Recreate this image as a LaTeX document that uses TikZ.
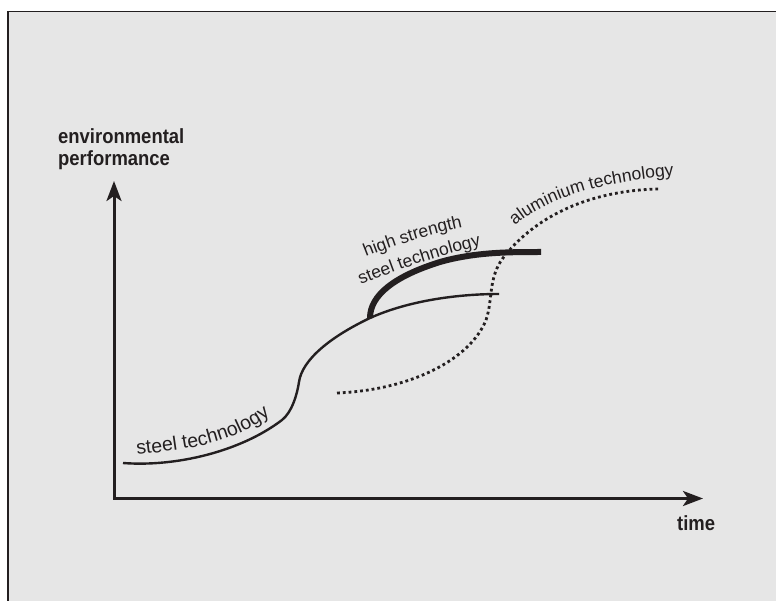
\documentclass[tikz,border=0pt]{standalone}
\usepackage{fontspec}
\setmainfont{Liberation Sans}
\usetikzlibrary{arrows.meta,decorations.text}
\definecolor{panelgray}{RGB}{230,230,230}
\definecolor{ink}{RGB}{35,31,32}
\newcommand{\lblfont}{\fontsize{17.5}{20}\selectfont}
\newcommand{\biglblfont}{\fontsize{19.5}{22}\selectfont}
\newcommand{\axfont}{\fontsize{20.5}{22}\selectfont\bfseries}
\newcommand{\axtext}[1]{\scalebox{0.9}[1]{#1}}
\begin{document}
\begin{tikzpicture}[x=1pt,y=-1pt,
  axis/.style={ink, line width=3pt, line join=miter,
    {Stealth[length=20pt,width=15pt,inset=5pt]}-{Stealth[length=20pt,width=15pt,inset=5pt]}},
  axlabel/.style={inner sep=0pt, anchor=base west, text=ink, font=\axfont},
  curvelabel/.style={decorate, decoration={text along path, text color=ink}}]
\useasboundingbox (0,0) rectangle (776,601);
% panel
\fill[panelgray] (8,11) rectangle (776,601);
\draw[ink, line width=1.7pt] (776,11.5) -- (8,11.5) -- (8,601);
% axes
\coordinate (ytip) at (114,181);
\coordinate (origin) at (114,498.5);
\coordinate (xtip) at (703,498.5);
\draw[axis] (ytip) -- (origin) -- (xtip);
\node[axlabel] (envlabel) at (58,144) {\axtext{environmental}};
\node[axlabel] (perflabel) at (58,166) {\axtext{performance}};
\node[axlabel] (timelabel) at (677,530) {\axtext{time}};
% steel technology
\draw[ink, line width=2.4pt] (123,463) .. controls (175,467) and (240,452) .. (282,420)
  .. controls (292,412) and (297,395) .. (299,382)
  .. controls (302,360) and (330,337) .. (370,318)
  .. controls (410,300) and (460,294) .. (499,294);
% high strength steel technology
\draw[ink, line width=6pt] (370,318) .. controls (370,295) and (395,276) .. (440,262)
  .. controls (475,252) and (510,252) .. (541,252);
% aluminium technology
\draw[ink, line width=2.8pt, dash pattern=on 2.8pt off 3pt]
  (337,393) .. controls (410,390) and (470,360) .. (486,320)
  .. controls (493,300) and (488,278) .. (503,258)
  .. controls (540,210) and (600,190) .. (659,189);
% labels
\path[curvelabel, decoration={text={|\biglblfont|steel technology}}]
  (137,455) .. controls (185,449) and (238,446) .. (282,405);
\path[curvelabel, decoration={text={|\lblfont|high strength}}]
  (366,257) .. controls (396,245) and (436,232) .. (479,224);
\path[curvelabel, decoration={text={|\lblfont|steel technology}}]
  (361,285) .. controls (396,270) and (446,253) .. (493,243);
\path[curvelabel, decoration={text={|\lblfont|aluminium technology}}]
  (515,226) .. controls (547,197) and (607,180) .. (687,175);
\end{tikzpicture}
\end{document}
